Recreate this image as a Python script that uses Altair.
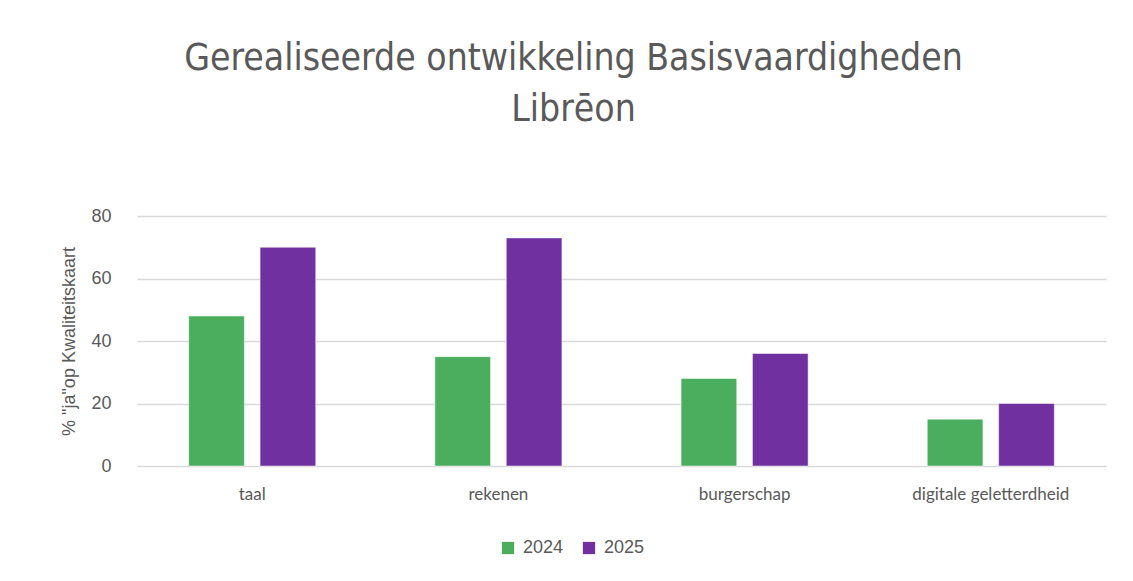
import altair as alt
import pandas as pd

categories = ["taal", "rekenen", "burgerschap", "digitale geletterdheid"]
years = ["2024", "2025"]
values_2024 = [48, 35, 28, 15]
values_2025 = [70, 73, 36, 20]
colors = ["#4BAE5E", "#7030A0"]

rows = []
for c, a, b in zip(categories, values_2024, values_2025):
    rows.append({"cat": c, "jaar": "2024", "val": a})
    rows.append({"cat": c, "jaar": "2025", "val": b})
df = pd.DataFrame(rows)

chart = alt.Chart(df).mark_bar(stroke="white", strokeWidth=0.5).encode(
    x=alt.X("cat:N", sort=categories, title=None,
            scale=alt.Scale(paddingInner=0.484, paddingOuter=0.21),
            axis=alt.Axis(labelAngle=0, labelFont="Lato", labelFontSize=17,
                          labelColor="#595959", ticks=False, domain=False,
                          labelPadding=20, grid=False)),
    xOffset=alt.XOffset("jaar:N", sort=years,
                        scale=alt.Scale(paddingInner=0.22, paddingOuter=0)),
    y=alt.Y("val:Q", title='% "ja"op Kwaliteitskaart',
            scale=alt.Scale(domain=[0, 80], nice=False),
            axis=alt.Axis(values=[0, 20, 40, 60, 80], ticks=False, domain=False,
                          labelFont="Liberation Sans", labelFontSize=18,
                          labelColor="#595959", labelPadding=26,
                          titleFont="Liberation Sans", titleFontSize=18,
                          titleFontWeight="normal", titleColor="#595959",
                          titlePadding=12,
                          gridColor="#D9D9D9", gridWidth=1.5)),
    color=alt.Color("jaar:N", sort=years,
                    scale=alt.Scale(domain=years, range=colors),
                    legend=alt.Legend(title=None, orient="none", direction="horizontal",
                                      legendX=362, legendY=323,
                                      symbolType="square", symbolSize=150,
                                      symbolStrokeWidth=0,
                                      labelFont="Liberation Sans", labelFontSize=18,
                                      labelColor="#595959", columnPadding=16,
                                      labelOffset=6)),
).properties(
    width=969,
    height=250,
    title=alt.TitleParams(
        ["Gerealiseerde ontwikkeling Basisvaardigheden", "Librēon"],
        font="DejaVu Sans Condensed, Roboto, sans-serif", fontSize=37, fontWeight="normal",
        color="#595959", anchor="middle", dx=-48, offset=78, lineHeight=51,
    ),
    padding={"left": 129, "top": 208, "right": 19, "bottom": 99},
    autosize=alt.AutoSizeParams(type="none"),
).configure(background="white").configure_view(strokeWidth=0, stroke=None)

chart.save("out.html", embed_options={"renderer": "svg", "actions": False})
